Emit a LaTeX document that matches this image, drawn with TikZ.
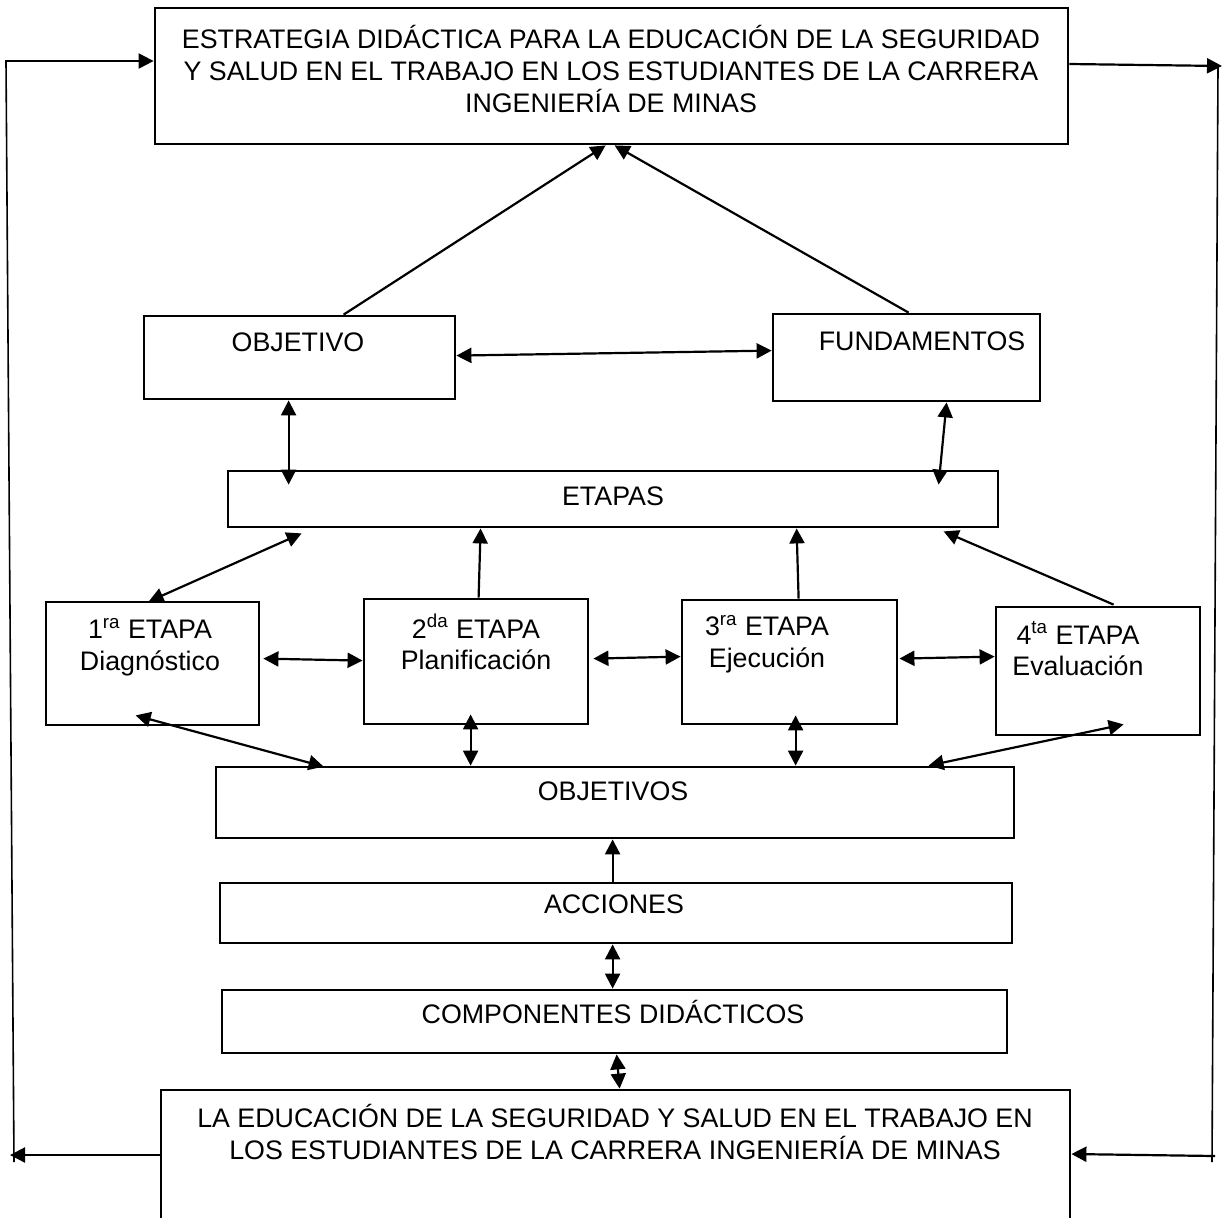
\documentclass[tikz,border=0pt]{standalone}
\usepackage{fontspec}
\setmainfont{Liberation Sans}
\usetikzlibrary{arrows.meta,calc,fit}
\begin{document}
\begin{tikzpicture}[x=0.5pt,y=-0.5pt,
  bx/.style={draw,line width=1.4pt,inner sep=0pt},
  tx/.style={font=\fontsize{13.4}{15.8}\selectfont,align=center,inner sep=0pt},
  tip/.style={-{Triangle[length=7.5pt,width=7.5pt]},line width=1.1pt},
  dtip/.style={{Triangle[length=7.5pt,width=7.5pt]}-{Triangle[length=7.5pt,width=7.5pt]},line width=1.1pt},
  fb/.style={line width=0.8pt}]
\useasboundingbox (0,0) rectangle (1225,1217);
% boxes
\node[bx,fit={(155,8) (1068,144)}] (top) {};
\node[bx,fit={(161,1090) (1070,1240)}] (bot) {};
\node[bx,fit={(144,316) (455,399)}] (obj) {};
\node[bx,fit={(773,314) (1040,401)}] (fund) {};
\node[bx,fit={(228,471) (998,527)}] (etp) {};
\node[bx,fit={(46,602) (259,725)}] (e1) {};
\node[bx,fit={(364,599) (588,724)}] (e2) {};
\node[bx,fit={(682,600) (897,724)}] (e3) {};
\node[bx,fit={(996,607) (1200,735)}] (e4) {};
\node[bx,fit={(216,767) (1014,838)}] (objs) {};
\node[bx,fit={(220,883) (1012,943)}] (acc) {};
\node[bx,fit={(222,990) (1007,1053)}] (comp) {};
% texts
\node[tx] (ttop) at (611,69) {ESTRATEGIA DIDÁCTICA PARA LA EDUCACIÓN DE LA SEGURIDAD\\Y SALUD EN EL TRABAJO EN LOS ESTUDIANTES DE LA CARRERA\\INGENIERÍA DE MINAS};
\node[tx] (tbot) at (615,1132) {LA EDUCACIÓN DE LA SEGURIDAD Y SALUD EN EL TRABAJO EN\\LOS ESTUDIANTES DE LA CARRERA INGENIERÍA DE MINAS};
\node[tx] (tobj) at (298,342) {OBJETIVO};
\node[tx] (tfund) at (922,341) {FUNDAMENTOS};
\node[tx] (tetp) at (613,496) {ETAPAS};
\node[tx] (te1) at (150,647) {1\textsuperscript{ra} ETAPA\\Diagnóstico};
\node[tx] (te2) at (476,642) {2\textsuperscript{da} ETAPA\\Planificación};
\node[tx] (te3) at (767,644) {3\textsuperscript{ra} ETAPA\\Ejecución};
\node[tx] (te4) at (1078,649) {4\textsuperscript{ta} ETAPA\\Evaluación};
\node[tx] (tobjs) at (613,791) {OBJETIVOS};
\node[tx] (tacc) at (614,904) {ACCIONES};
\node[tx] (tcomp) at (613,1012) {COMPONENTES DIDÁCTICOS};
% connectors
\draw[tip] ($(obj.north west)+(201,0)$) -- ($(top.south west)+(452,0)$);
\draw[tip] ($(fund.north west)+(137,0)$) -- ($(top.south west)+(461,0)$);
\draw[dtip] ($(obj.north east)+(0,41)$) -- ($(fund.north west)+(0,38)$);
\draw[dtip] ($(obj.south west)+(146,0)$) -- ($(etp.north west)+(62,15)$);
\draw[dtip] ($(fund.south west)+(175,0)$) -- ($(etp.north west)+(712,15)$);
\draw[dtip] ($(etp.south west)+(75,5)$) -- ($(e1.north west)+(104,1)$);
\draw[tip] ($(e2.north west)+(116,0)$) -- ($(etp.south west)+(254,0)$);
\draw[tip] ($(e3.north west)+(118,0)$) -- ($(etp.south west)+(570,0)$);
\draw[tip] ($(e4.north west)+(119,-1)$) -- ($(etp.south west)+(717,3)$);
\draw[dtip] ($(e1.north east)+(3,58)$) -- ($(e2.north west)+(0,63)$);
\draw[dtip] ($(e2.north east)+(4,61)$) -- ($(e3.north west)+(0,58)$);
\draw[dtip] ($(e3.north east)+(1,60)$) -- ($(e4.north west)+(0,51)$);
\draw[dtip] ($(e1.south west)+(91,-11)$) -- ($(objs.north west)+(109,1)$);
\draw[dtip] ($(e2.south west)+(108,-11)$) -- ($(objs.north west)+(256,0)$);
\draw[dtip] ($(e3.south west)+(115,-10)$) -- ($(objs.north west)+(581,0)$);
\draw[dtip] ($(e4.south west)+(129,-12)$) -- ($(objs.north west)+(714,0)$);
\draw[tip] ($(acc.north west)+(394,0)$) -- ($(objs.south west)+(398,0)$);
\draw[dtip] ($(acc.south west)+(394,0)$) -- ($(comp.north west)+(392,0)$);
\draw[dtip] ($(comp.south west)+(396,0)$) -- ($(bot.north west)+(460,0)$);
% feedback loops
\coordinate (L1) at (5,61);
\coordinate (L2) at (14,1162);
\coordinate (L3) at (10,1155);
\coordinate (R1) at (1222,66);
\coordinate (R2) at (1212,1162);
\coordinate (R3) at (1215,1156);
\draw[tip] (L1) -- (L1 -| top.west);
\draw[fb] (6,61) -- (L2);
\draw[tip] (L3 -| bot.west) -- (L3);
\draw[tip] (top.east |- 0,64) -- (R1);
\draw[fb] (1218,66) -- (R2);
\draw[tip] (R3) -- (bot.east |- 0,1154);
\end{tikzpicture}
\end{document}
